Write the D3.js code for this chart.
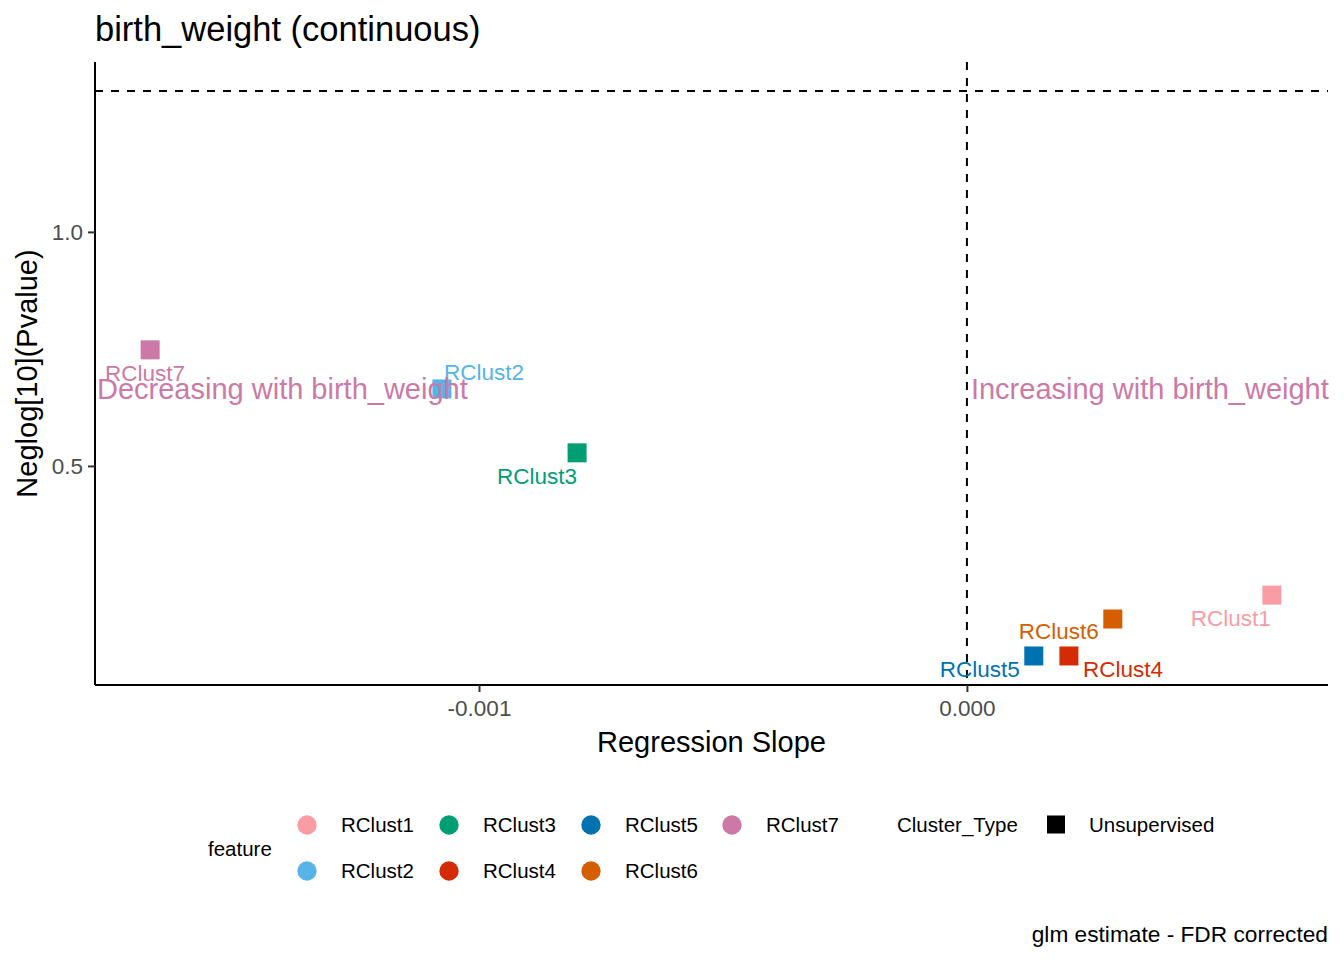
<!DOCTYPE html>
<html>
<head>
<meta charset="utf-8">
<script src="https://cdn.jsdelivr.net/npm/d3@7"></script>
<style>
  body { margin: 0; background: #fff; }
  text { font-family: "Liberation Sans", Arial, sans-serif; }
</style>
</head>
<body>
<svg id="chart"></svg>
<script>
/* volcano-style plot: slope vs -log10(p) */
const features = ["RClust1", "RClust2", "RClust3", "RClust4", "RClust5", "RClust6", "RClust7"]
const slopes = [0.000625, -0.001076, -0.000799, 0.000209, 0.000137, 0.000299, -0.001674]
const neglogP = [0.224, 0.6645, 0.528, 0.094, 0.094, 0.173, 0.748]
const xTicks = [-0.001, 0.000]
const yTicks = [0.5, 1.0]
const pThreshold = 0.05

const colors = ["#F99CA4", "#56B4E9", "#009E73", "#D52B05", "#0072B2", "#D55E00", "#CC79A7"]
// repelled label offsets, pixels
const labelOffsets = [[-41, 23], [42, -17], [-40, 23], [54, 13], [-54, 13], [-54, 12], [-5, 23]]

const W = 1344, H = 960
const pLeft = 95, pRight = 1328, pTop = 62, pBottom = 685

const svg = d3.select("#chart").attr("width", W).attr("height", H)
svg.append("rect").attr("width", W).attr("height", H).attr("fill", "#fff")

const x = d3.scaleLinear().domain([-0.001787, 0.00074]).range([pLeft, pRight])
const y = d3.scaleLinear().domain([0.032, 1.363]).range([pBottom, pTop])

const data = features.map((f, i) => ({
    feature: f, slope: slopes[i], p: neglogP[i], color: colors[i], off: labelOffsets[i]
}))

// reference lines
const thr = -Math.log10(pThreshold)
svg.append("line")
    .attr("x1", pLeft).attr("x2", pRight)
    .attr("y1", y(thr)).attr("y2", y(thr))
    .attr("stroke", "#000").attr("stroke-width", 2).attr("stroke-dasharray", "8,8")
svg.append("line")
    .attr("x1", x(0)).attr("x2", x(0))
    .attr("y1", pTop).attr("y2", pBottom)
    .attr("stroke", "#000").attr("stroke-width", 2).attr("stroke-dasharray", "8,8")

// axes
const xAxis = svg.append("g")
    .attr("transform", "translate(0," + pBottom + ")")
    .call(d3.axisBottom(x).tickValues(xTicks).tickSize(7).tickSizeOuter(0))
xAxis.select(".domain").attr("stroke", "#000").attr("stroke-width", 2)
    .attr("d", "M" + pLeft + ",0H" + pRight)
xAxis.selectAll(".tick line").attr("stroke", "#333").attr("stroke-width", 2)
xAxis.selectAll(".tick text")
    .attr("font-size", 22.5).attr("fill", "#4D4D4D").attr("dy", "0.95em")
    .text(d => d3.format(".3f")(d).replace("−", "-"))

const yAxis = svg.append("g")
    .attr("transform", "translate(" + pLeft + ",0)")
    .call(d3.axisLeft(y).tickValues(yTicks).tickFormat(d3.format(".1f")).tickSize(7).tickSizeOuter(0))
yAxis.select(".domain").attr("stroke", "#000").attr("stroke-width", 2)
    .attr("d", "M0," + pTop + "V" + pBottom)
yAxis.selectAll(".tick line").attr("stroke", "#333").attr("stroke-width", 2)
yAxis.selectAll(".tick text")
    .attr("font-size", 22.5).attr("fill", "#4D4D4D").attr("x", -12)

// points
svg.selectAll("rect.pt")
    .data(data)
    .enter()
    .append("rect")
    .attr("class", "pt")
    .attr("x", d => x(d.slope) - 9.5)
    .attr("y", d => y(d.p) - 9.5)
    .attr("width", 19).attr("height", 19)
    .attr("fill", d => d.color)

// point labels
svg.selectAll("text.lbl")
    .data(data)
    .enter()
    .append("text")
    .attr("class", "lbl")
    .attr("x", d => x(d.slope) + d.off[0])
    .attr("y", d => y(d.p) + d.off[1])
    .attr("dy", "0.36em")
    .attr("text-anchor", "middle")
    .attr("font-size", 22.5)
    .attr("fill", d => d.color)
    .text(d => d.feature)

// direction annotations (last feature colour ends up on top in the original)
const annY = 0.665
const annColor = colors[colors.length - 1]
svg.append("text")
    .attr("x", x.range()[0] + 2).attr("y", y(annY)).attr("dy", "0.36em")
    .attr("font-size", 29).attr("fill", annColor)
    .text("Decreasing with birth_weight")
svg.append("text")
    .attr("x", x(0) + 4).attr("y", y(annY)).attr("dy", "0.36em")
    .attr("font-size", 29).attr("fill", annColor)
    .text("Increasing with birth_weight")

// titles
svg.append("text").attr("x", 95).attr("y", 41)
    .attr("font-size", 34.5).attr("fill", "#000")
    .text("birth_weight (continuous)")
svg.append("text").attr("x", (pLeft + pRight) / 2).attr("y", 752)
    .attr("text-anchor", "middle").attr("font-size", 29).attr("fill", "#000")
    .text("Regression Slope")
svg.append("text")
    .attr("transform", "translate(37," + (pTop + pBottom) / 2 + ") rotate(-90)")
    .attr("text-anchor", "middle").attr("font-size", 29).attr("fill", "#000")
    .text("Neglog[10](Pvalue)")
svg.append("text").attr("x", pRight).attr("y", 942)
    .attr("text-anchor", "end").attr("font-size", 22.7).attr("fill", "#000")
    .text("glm estimate - FDR corrected")

// legend: feature
const legX = [307, 449, 591, 732], legY = [825, 871]
svg.append("text").attr("x", 208).attr("y", 849).attr("dy", "0.36em")
    .attr("font-size", 20.5).attr("fill", "#000").text("feature")
const leg = svg.selectAll("g.leg")
    .data(data)
    .enter()
    .append("g")
    .attr("class", "leg")
    .attr("transform", (d, i) => "translate(" + legX[Math.floor(i / 2)] + "," + legY[i % 2] + ")")
leg.append("circle").attr("r", 9.7).attr("fill", d => d.color)
leg.append("text").attr("x", 34).attr("dy", "0.36em")
    .attr("font-size", 20.5).attr("fill", "#000").text(d => d.feature)

// legend: Cluster_Type
svg.append("text").attr("x", 897).attr("y", 825).attr("dy", "0.36em")
    .attr("font-size", 20.5).attr("fill", "#000").text("Cluster_Type")
svg.append("rect").attr("x", 1047).attr("y", 815.5).attr("width", 18).attr("height", 18).attr("fill", "#000")
svg.append("text").attr("x", 1089).attr("y", 825).attr("dy", "0.36em")
    .attr("font-size", 20.5).attr("fill", "#000").text("Unsupervised")
</script>
</body>
</html>
